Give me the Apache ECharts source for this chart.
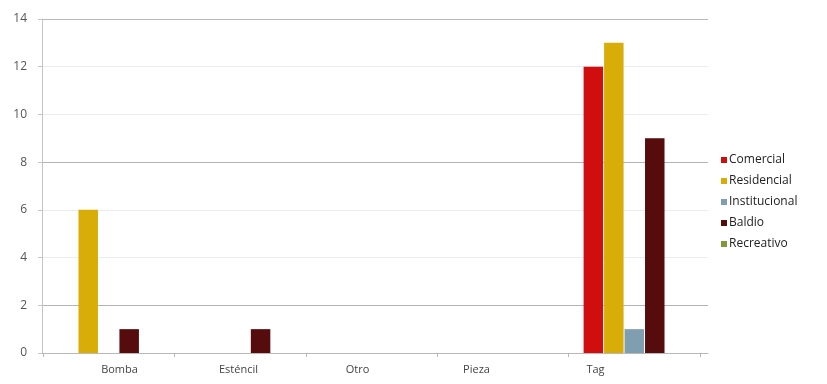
<!DOCTYPE html>
<html><head><meta charset="utf-8">
<script src="https://cdn.jsdelivr.net/npm/echarts@6/dist/echarts.min.js"></script>
<style>html,body{margin:0;padding:0;background:#fff}#c{width:827px;height:384px}</style>
</head><body><div id="c"></div>
<script>
const categories = ['Bomba', 'Esténcil', 'Otro', 'Pieza', 'Tag'];
const seriesNames = ['Comercial', 'Residencial', 'Institucional', 'Baldio', 'Recreativo'];
const comercial = [0, 0, 0, 0, 12];
const residencial = [6, 0, 0, 0, 13];
const institucional = [0, 0, 0, 0, 1];
const baldio = [1, 1, 0, 0, 9];
const recreativo = [0, 0, 0, 0, 0];
const yTicks = [0, 2, 4, 6, 8, 10, 12, 14];

const values = [comercial, residencial, institucional, baldio, recreativo];
const colors = ['#d10e0e', '#d8ad08', '#7f9fb0', '#560c0c', '#7e9a38'];
const font = 'Open Sans, DejaVu Sans, sans-serif';

const chart = echarts.init(document.getElementById('c'));
chart.setOption({
  animation: false,
  color: colors,
  grid: [
    { left: 43, right: 127, top: 19, bottom: 31 },  // bars
    { left: 42, right: 119, top: 19, bottom: 31 },  // gridlines
    { left: 60, right: 172, top: 19, bottom: 31 }   // category labels
  ],
  legend: {
    orient: 'vertical', left: 716, top: 149,
    itemWidth: 6, itemHeight: 6, itemGap: 9,
    icon: 'rect',
    textStyle: { fontFamily: font, fontSize: 12, color: '#222', padding: [0, 0, 0, -3] },
    data: seriesNames
  },
  xAxis: [
    {
      type: 'category', gridIndex: 0, data: categories,
      axisLine: { show: false },
      axisTick: { show: true, length: 4, lineStyle: { color: '#b8b8b8' } },
      axisLabel: { show: false }
    },
    {
      type: 'category', gridIndex: 1, data: categories,
      axisLine: { show: true, lineStyle: { color: '#b8b8b8', width: 1 } },
      axisTick: { show: false }, axisLabel: { show: false }
    },
    {
      type: 'category', gridIndex: 2, data: categories,
      axisLine: { show: false }, axisTick: { show: false },
      axisLabel: { fontFamily: font, fontSize: 11, color: '#444', margin: 11 }
    }
  ],
  yAxis: [
    { type: 'value', gridIndex: 0, min: 0, max: 14, interval: 2, show: false, splitLine: { show: false } },
    {
      type: 'value', gridIndex: 1, min: 0, max: 14, interval: 2,
      axisLine: { show: true, lineStyle: { color: '#c4c4c4' } },
      axisTick: { show: true, length: 4, lineStyle: { color: '#c4c4c4' } },
      axisLabel: { fontFamily: font, fontSize: 12, color: '#555', margin: 15,
        formatter: v => yTicks.includes(v) ? String(v) : '' },
      splitLine: { show: true, lineStyle: { width: 1,
        color: ['#b4b4b4', '#b4b4b4', '#ececec', '#ececec', '#b4b4b4', '#ececec', '#ececec', '#b8b8b8'] } }
    },
    { type: 'value', gridIndex: 2, min: 0, max: 14, show: false, splitLine: { show: false } }
  ],
  series: seriesNames.map((name, i) => ({
    name, type: 'bar', xAxisIndex: 0, yAxisIndex: 0,
    data: values[i], barWidth: 19.5, barGap: '5%',
    itemStyle: { color: colors[i] }
  }))
});
</script></body></html>
